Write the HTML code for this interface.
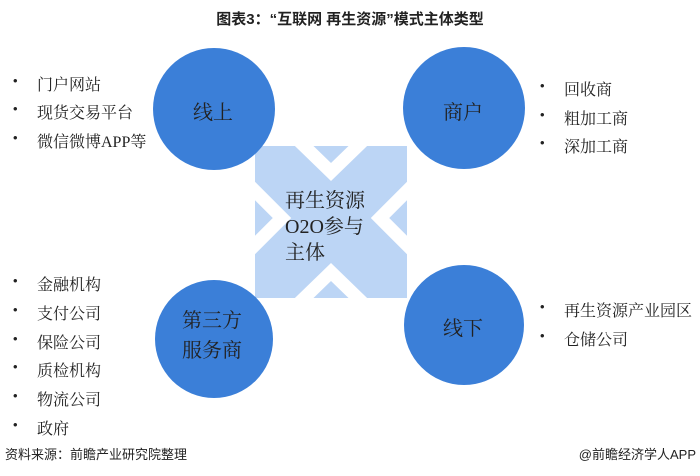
<!DOCTYPE html>
<html><head><meta charset="utf-8"><style>
body{margin:0;width:700px;height:476px;background:#fff;overflow:hidden;position:relative;font-family:"Liberation Serif","Noto Serif CJK SC",serif;color:#222}
.t{position:absolute;white-space:nowrap}
.li{position:absolute;font-size:16px;white-space:nowrap}
.li:before{content:"•";position:absolute;left:-24px;font-family:"Liberation Sans",sans-serif;font-size:13px;top:1px}
</style></head><body>
<div class="t" style="left:0;width:700px;text-align:center;top:8px;font-family:'Liberation Sans','Noto Sans CJK SC',sans-serif;font-weight:bold;font-size:15px;color:#222">图表3：“互联网 再生资源”模式主体类型</div>
<svg width="700" height="476" style="position:absolute;left:0;top:0">
<rect x="255" y="146" width="152" height="152" fill="#bcd5f5"/>
<g stroke="#fff" stroke-width="13" fill="none" stroke-linecap="butt">
<polyline points="298,140 331,172 364,140"/>
<polyline points="298,304 331,272 364,304"/>
<polyline points="250,186 282,218 250,250"/>
<polyline points="412,186 380,218 412,250"/>
</g>
<circle cx="214" cy="109" r="61" fill="#3b7fd8"/>
<circle cx="464" cy="108" r="61" fill="#3b7fd8"/>
<circle cx="214" cy="339" r="59" fill="#3b7fd8"/>
<circle cx="464" cy="325" r="60" fill="#3b7fd8"/>
</svg>
<div class="t" style="left:193px;top:96px;font-size:20px">线上</div>
<div class="t" style="left:443px;top:96px;font-size:20px">商户</div>
<div class="t" style="left:443px;top:312px;font-size:20px">线下</div>
<div class="t" style="left:182px;top:306px;font-size:20px;line-height:30px;text-align:center">第三方<br>服务商</div>
<div class="t" style="left:285px;top:188px;font-size:20px;line-height:26px">再生资源<br>O2O参与<br>主体</div>
<div class="li" style="left:37px;top:72px">门户网站</div>
<div class="li" style="left:37px;top:100px">现货交易平台</div>
<div class="li" style="left:37px;top:129px">微信微博APP等</div>
<div class="li" style="left:564px;top:77px">回收商</div>
<div class="li" style="left:564px;top:106px">粗加工商</div>
<div class="li" style="left:564px;top:134px">深加工商</div>
<div class="li" style="left:37px;top:272px">金融机构</div>
<div class="li" style="left:37px;top:301px">支付公司</div>
<div class="li" style="left:37px;top:330px">保险公司</div>
<div class="li" style="left:37px;top:358px">质检机构</div>
<div class="li" style="left:37px;top:387px">物流公司</div>
<div class="li" style="left:37px;top:416px">政府</div>
<div class="li" style="left:564px;top:298px">再生资源产业园区</div>
<div class="li" style="left:564px;top:327px">仓储公司</div>
<div class="t" style="left:5px;top:444px;font-size:13px;font-family:'Liberation Sans','Noto Sans CJK SC',sans-serif">资料来源：前瞻产业研究院整理</div>
<div class="t" style="right:4px;top:444px;font-size:13px;font-family:'Liberation Sans','Noto Sans CJK SC',sans-serif">@前瞻经济学人APP</div>
</body></html>
